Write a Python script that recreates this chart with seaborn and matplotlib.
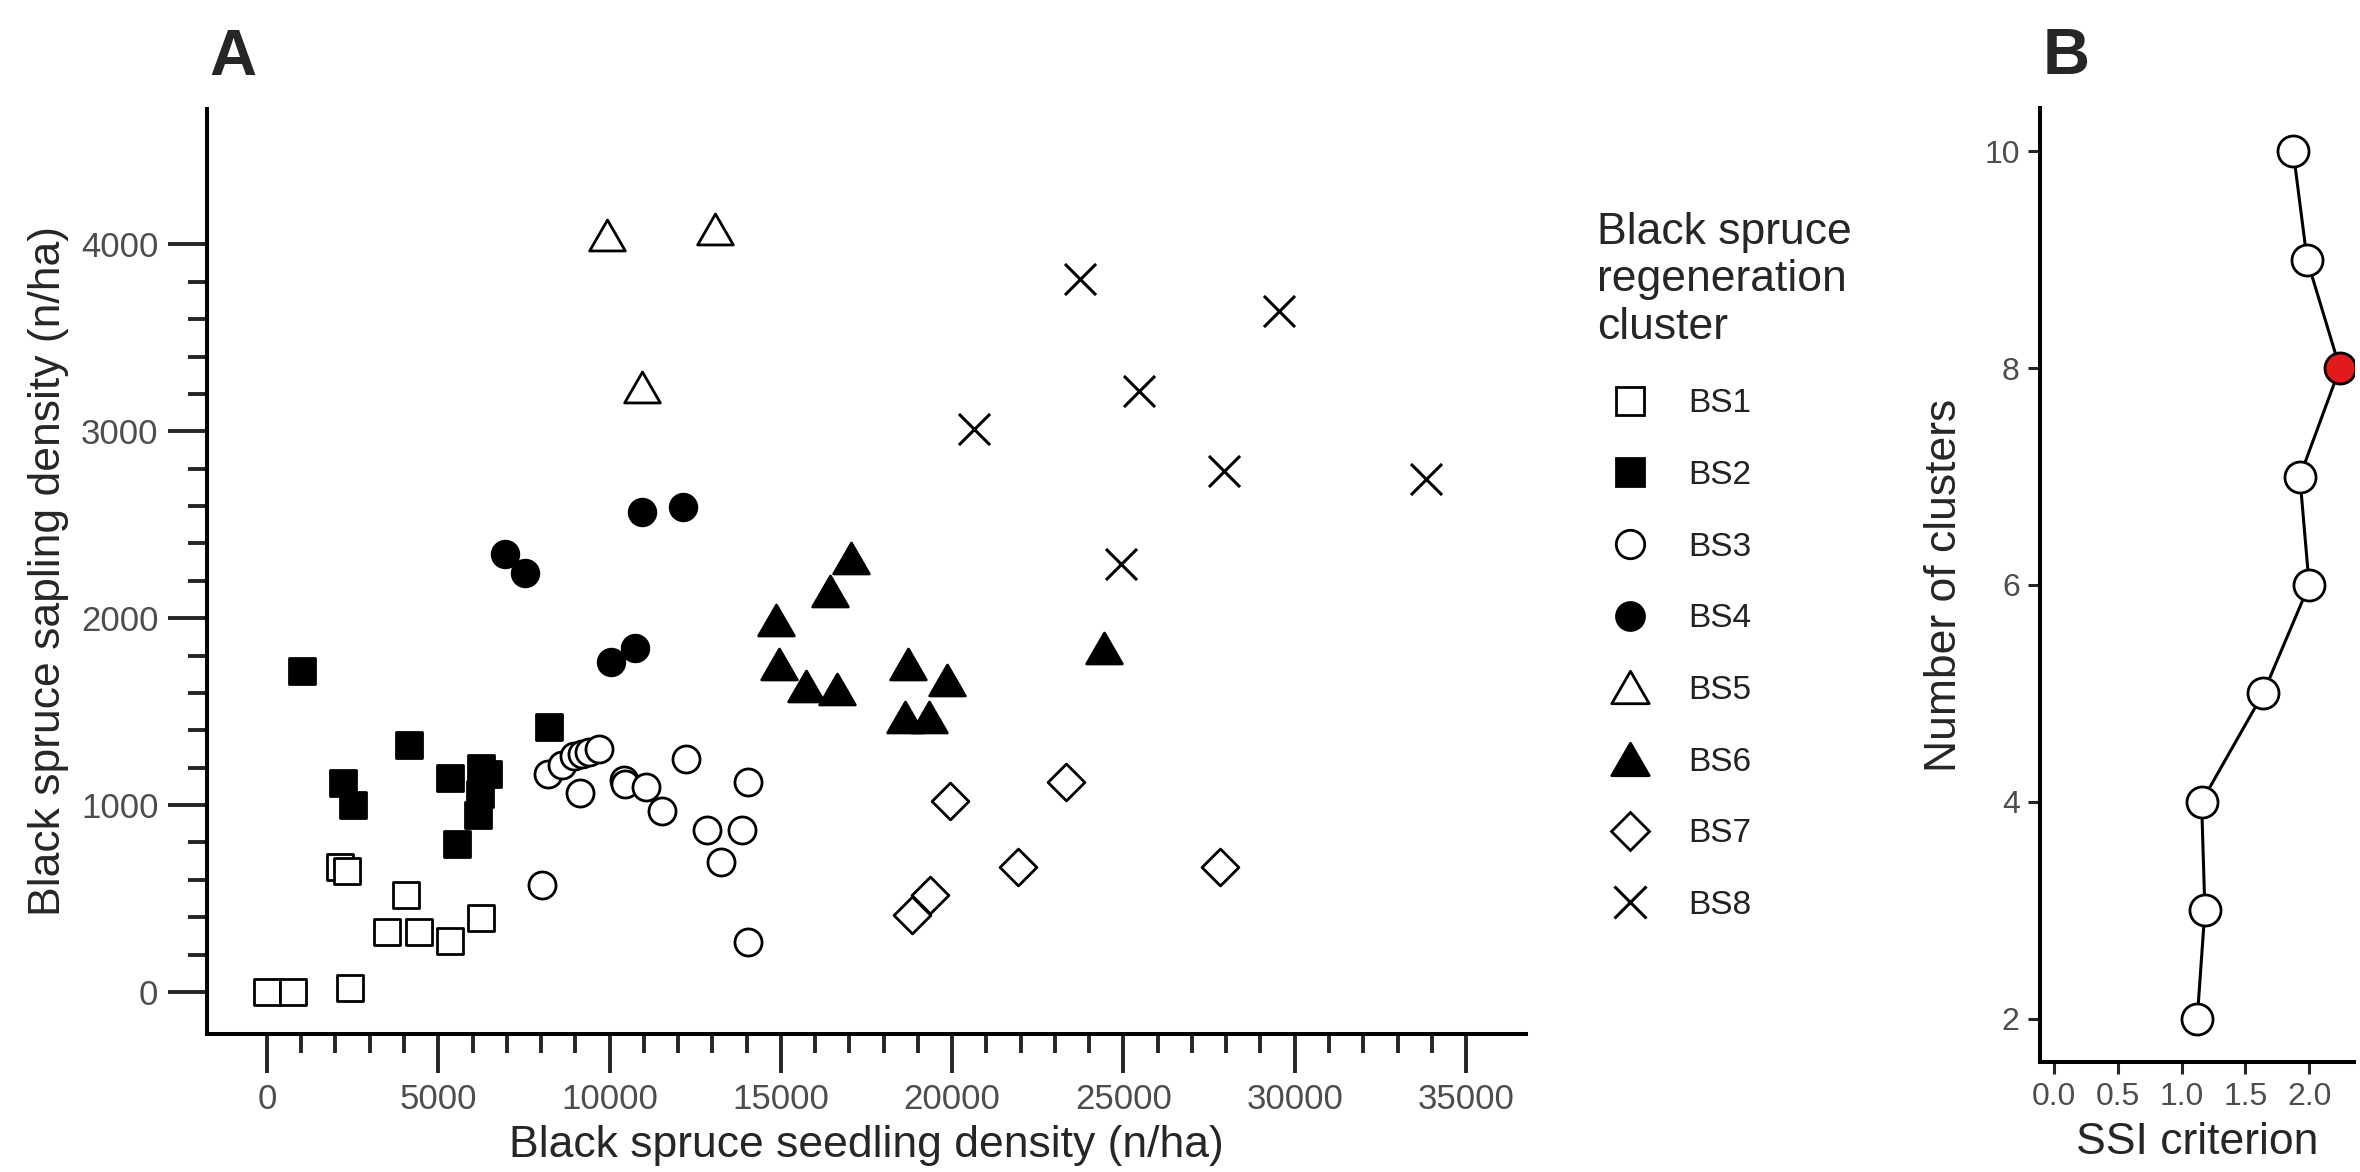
import numpy as np
import pandas as pd
import matplotlib
matplotlib.use("Agg")
import matplotlib.pyplot as plt
from matplotlib.lines import Line2D
from matplotlib.markers import MarkerStyle
from matplotlib.path import Path
import seaborn as sns

# Panel A: black spruce seedling (x) vs sapling (y) density, by cluster
bs1_x = [0, 770, 2420, 2130, 2345, 4045, 3500, 4435, 5330, 6235]
bs1_y = [0, 0, 20, 670, 645, 520, 320, 320, 275, 395]
bs2_x = [1025, 2230, 2500, 4140, 5340, 5535, 6255, 6445, 6205, 6155, 8225]
bs2_y = [1720, 1120, 1000, 1320, 1145, 790, 1200, 1168, 1058, 946, 1420]
bs3_x = [8210, 8615, 8955, 9200, 9395, 9685, 9130, 10415, 10465, 11050, 11535,
         12235, 8035, 14030, 12850, 13870, 13255, 14030]
bs3_y = [1168, 1213, 1261, 1275, 1284, 1302, 1065, 1133, 1115, 1097, 967,
         1248, 572, 1124, 866, 866, 697, 270]
bs4_x = [10955, 12130, 6935, 7530, 10045, 10730]
bs4_y = [2568, 2595, 2343, 2242, 1767, 1841]
bs5_x = [9940, 13070, 10955]
bs5_y = [4052, 4085, 3235]
bs6_x = [17040, 16445, 14855, 14935, 15735, 16640, 18725, 19840, 18630, 19310, 24440]
bs6_y = [2322, 2148, 1990, 1757, 1639, 1621, 1757, 1672, 1470, 1470, 1843]
bs7_x = [23320, 19945, 21925, 27830, 19360, 18825]
bs7_y = [1122, 1022, 671, 671, 519, 412]
bs8_x = [23740, 29545, 25450, 20645, 27935, 33830, 24930]
bs8_y = [3817, 3642, 3215, 3015, 2790, 2743, 2290]

clusters = ["BS1", "BS2", "BS3", "BS4", "BS5", "BS6", "BS7", "BS8"]
xs = [bs1_x, bs2_x, bs3_x, bs4_x, bs5_x, bs6_x, bs7_x, bs8_x]
ys = [bs1_y, bs2_y, bs3_y, bs4_y, bs5_y, bs6_y, bs7_y, bs8_y]

# Panel B: SSI criterion per number of clusters
n_clusters = [2, 3, 4, 5, 6, 7, 8, 9, 10]
ssi = [1.122, 1.182, 1.156, 1.639, 2.0, 1.927, 2.241, 1.984, 1.875]
best_k = 8

df = pd.concat([pd.DataFrame({"seedling": x, "sapling": y, "cluster": c})
                for c, x, y in zip(clusters, xs, ys)], ignore_index=True)
ssi_df = pd.DataFrame({"k": n_clusters, "ssi": ssi})

sns.set_style("ticks")
plt.rcParams["font.family"] = ["Liberation Sans", "DejaVu Sans"]

W, H = 2360, 1172
fig = plt.figure(figsize=(W / 200, H / 200), dpi=200)
axA = fig.add_axes([207 / W, 1 - 1034 / H, (1526 - 207) / W, (1034 - 109) / H])
axB = fig.add_axes([2040 / W, 1 - 1062 / H, (2354 - 2040) / W, (1062 - 108) / H])

# equilateral triangle, closed outline
tri = MarkerStyle(Path([(-1, -0.866), (1, -0.866), (0, 0.866), (0, 0)], closed=True))
# marker, size, fill
styles = {
    "BS1": ("s", 92, "white"),
    "BS2": ("s", 92, "black"),
    "BS3": ("o", 95, "white"),
    "BS4": ("o", 92, "black"),
    "BS5": (tri, 165, "white"),
    "BS6": (tri, 165, "black"),
    "BS7": ("D", 88, "white"),
    "BS8": ("x", 125, None),
}

for name in clusters:
    sub = df[df["cluster"] == name]
    m, s, fc = styles[name]
    if fc is None:
        sns.scatterplot(data=sub, x="seedling", y="sapling", ax=axA, marker=m, s=s,
                        color="black", linewidth=1.1, zorder=3)
    else:
        sns.scatterplot(data=sub, x="seedling", y="sapling", ax=axA, marker=m, s=s,
                        color="black", facecolor=fc, edgecolor="black",
                        linewidth=1.0, zorder=3)

grey = "#4d4d4d"
axA.set_xlim(-1750, 36750)
axA.set_ylim(-225, 4725)
axA.set_xticks(np.arange(0, 35001, 5000))
axA.set_xticks(np.arange(0, 35001, 1000), minor=True)
axA.set_yticks(np.arange(0, 4001, 1000))
axA.set_yticks(np.arange(0, 4001, 200), minor=True)
axA.tick_params(which="major", length=14, width=1.4, labelsize=12.5,
                labelcolor=grey, pad=3.5)
axA.tick_params(which="minor", length=7, width=1.4)
axA.set_xlabel("Black spruce seedling density (n/ha)", fontsize=16)
axA.set_ylabel("Black spruce sapling density (n/ha)", fontsize=16)
axA.xaxis.set_label_coords(0.5, -0.12)
axA.xaxis.label.set_va("center")
axA.yaxis.set_label_coords(-0.12, 0.5)
axA.yaxis.label.set_va("center")

# Panel B
sns.lineplot(data=ssi_df, x="ssi", y="k", sort=False, ax=axB, color="black",
             linewidth=1.1, zorder=2)
sns.scatterplot(data=ssi_df[ssi_df["k"] != best_k], x="ssi", y="k", ax=axB,
                marker="o", s=125, color="black", facecolor="white",
                edgecolor="black", linewidth=1.0, zorder=3)
sns.scatterplot(data=ssi_df[ssi_df["k"] == best_k], x="ssi", y="k", ax=axB,
                marker="o", s=125, color="black", facecolor="#e31a1c",
                edgecolor="black", linewidth=1.0, zorder=3)
axB.set_xlim(-0.112, 2.352)
axB.set_ylim(1.6, 10.4)
axB.set_xticks([0, 0.5, 1.0, 1.5, 2.0])
axB.set_xticklabels(["0.0", "0.5", "1.0", "1.5", "2.0"])
axB.set_yticks([2, 4, 6, 8, 10])
axB.tick_params(which="major", length=4.3, width=1.1, labelsize=11.5,
                labelcolor=grey, pad=3)
axB.set_xlabel("SSI criterion", fontsize=16)
axB.set_ylabel("Number of clusters", fontsize=16)
axB.xaxis.set_label_coords(0.5, -0.084)
axB.xaxis.label.set_va("center")
axB.yaxis.set_label_coords(-0.304, 0.5)
axB.yaxis.label.set_va("center")

for ax in (axA, axB):
    sns.despine(ax=ax)
    for sp in ("left", "bottom"):
        ax.spines[sp].set_linewidth(1.45)
        ax.spines[sp].set_color("black")

# legend
handles = []
for name in clusters:
    m, s, fc = styles[name]
    ms = np.sqrt(s) * 1.05
    if fc is None:
        handles.append(Line2D([], [], linestyle="none", marker=m, markersize=ms,
                              color="black", markeredgewidth=1.1))
    else:
        handles.append(Line2D([], [], linestyle="none", marker=m, markersize=ms,
                              markerfacecolor=fc, markeredgecolor="black",
                              markeredgewidth=1.0))
leg = fig.legend(handles=handles, labels=clusters,
                 title="Black spruce\nregeneration\ncluster",
                 loc="upper left", bbox_to_anchor=(1597 / W, 1 - 212 / H),
                 frameon=False, fontsize=12, title_fontsize=16,
                 alignment="left", handlelength=2.0, handletextpad=0.75,
                 labelspacing=1.22, borderpad=0, borderaxespad=0)
for t in leg.get_texts():
    t.set_color("#222222")

fig.text(209 / W, 1 - 75 / H, "A", fontsize=23.5, fontweight="bold",
         ha="left", va="baseline")
fig.text(2043 / W, 1 - 74 / H, "B", fontsize=23.5, fontweight="bold",
         ha="left", va="baseline")

fig.savefig("out.png", dpi=200)
